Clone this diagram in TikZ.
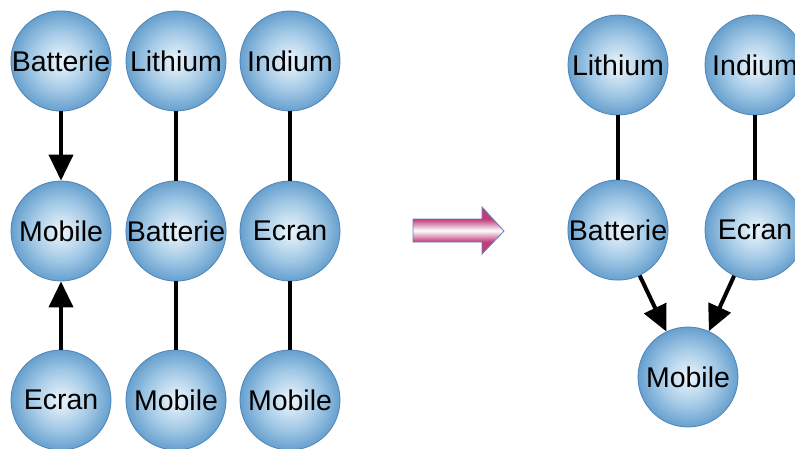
\documentclass[tikz,border=0pt]{standalone}
\usepackage{fontspec}
\setmainfont{Liberation Sans}
\usetikzlibrary{arrows.meta}
\definecolor{ballin}{HTML}{E4F0F9}
\definecolor{ballmid}{HTML}{A6CBE7}
\definecolor{ballout}{HTML}{67A0CE}
\definecolor{ballline}{HTML}{4F84B6}
\definecolor{pk}{HTML}{C13C7C}
\definecolor{pkline}{HTML}{6A7FB8}
\pgfdeclareradialshading{ball}{\pgfpoint{0bp}{0bp}}{color(0bp)=(ballin); color(2bp)=(ballin); color(14bp)=(ballmid); color(25bp)=(ballout); color(50bp)=(ballout)}
\pgfdeclareverticalshading{pinkbar}{100bp}{color(0bp)=(pk); color(38bp)=(pk); color(50bp)=(white); color(62bp)=(pk); color(100bp)=(pk)}
\begin{document}
\begin{tikzpicture}[x=1pt,y=-1pt,
  ball/.style={circle, minimum size=100pt, inner sep=0pt, shading=ball, draw=ballline, line width=0.8pt, font=\fontsize{28.5}{30}\selectfont},
  link/.style={line width=4pt},
  dep/.style={line width=4pt, -{Triangle[length=26pt,width=24pt]}},
  bigarrow/.style={shading=pinkbar, draw=pkline, line width=0.8pt}]
\useasboundingbox (0,0) rectangle (795,448);
\clip (0,0) rectangle (795,448);
% left part
\node[ball] (b1) at (61,61) {Batterie};
\node[ball] (m1) at (61,231) {Mobile};
\node[ball] (e1) at (61,400) {Ecran};
\node[ball] (l2) at (176,61) {Lithium};
\node[ball] (b2) at (176,231) {Batterie};
\node[ball] (m2) at (176,400) {Mobile};
\node[ball] (i3) at (290,61) {Indium};
\node[ball] (e3) at (290,231) {Ecran};
\node[ball] (m3) at (290,400) {Mobile};
\draw[dep] (b1) -- (m1);
\draw[dep] (e1) -- (m1);
\draw[link] (l2) -- (b2);
\draw[link] (b2) -- (m2);
\draw[link] (i3) -- (e3);
\draw[link] (e3) -- (m3);
% transformation arrow
\shadedraw[bigarrow] (413,219) -- (482,219) -- (482,207) -- (504,231) -- (482,254) -- (482,242) -- (413,242) -- cycle;
% right part
\node[ball] (rl) at (618,65) {Lithium};
\node[ball] (ri) at (755,65) {Indium};
\node[ball] (rb) at (618,230) {Batterie};
\node[ball] (re) at (755,230) {Ecran};
\node[ball] (rm) at (688,377) {Mobile};
\draw[link] (rl) -- (rb);
\draw[link] (ri) -- (re);
\draw[dep] (rb) -- (rm);
\draw[dep] (re) -- (rm);
\end{tikzpicture}
\end{document}
